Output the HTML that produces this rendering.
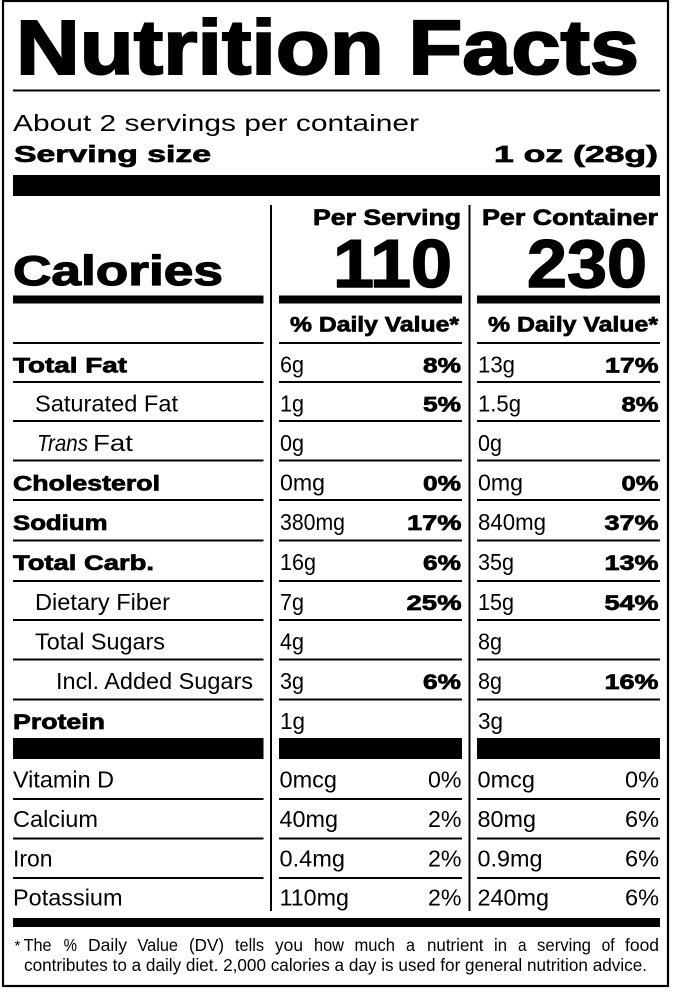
<!DOCTYPE html>
<html>
<head>
<meta charset="utf-8">
<style>
  html, body { margin: 0; padding: 0; background: #fff; }
  svg { display: block; }
  text { font-family: "Liberation Sans", Arial, sans-serif; fill: #000; }
  .b { font-weight: bold; stroke: #000; stroke-width: 0.7; }
  .r { font-weight: normal; }
  .i { font-style: italic; }
</style>
</head>
<body>
<svg width="673" height="992" viewBox="0 0 673 992" xmlns="http://www.w3.org/2000/svg">
  <rect x="0" y="0" width="673" height="992" fill="#fff"/>
  <rect x="3" y="1" width="665" height="985" fill="none" stroke="#000" stroke-width="2.2"/>

  <text x="16" y="74" font-size="77" font-weight="bold" stroke="#000" stroke-width="2" textLength="623" lengthAdjust="spacingAndGlyphs">Nutrition Facts</text>
  <rect x="13" y="89.5" width="647" height="2"/>

  <text class="r" x="13" y="131" font-size="23.5" textLength="406" lengthAdjust="spacingAndGlyphs">About 2 servings per container</text>
  <text class="b" x="14" y="162" font-size="23" textLength="197" lengthAdjust="spacingAndGlyphs">Serving size</text>
  <text class="b" x="494" y="162" font-size="23" textLength="164" lengthAdjust="spacingAndGlyphs">1 oz (28g)</text>

  <rect x="13" y="175" width="647" height="21"/>

  <rect x="270" y="205" width="2" height="706"/>
  <rect x="468.5" y="205" width="2" height="706"/>

  <text class="b" x="313" y="225" font-size="22" textLength="148" lengthAdjust="spacingAndGlyphs">Per Serving</text>
  <text class="b" x="482" y="225" font-size="22" textLength="176" lengthAdjust="spacingAndGlyphs">Per Container</text>
  <text x="333" y="287" font-size="68" font-weight="bold" stroke="#000" stroke-width="1.5" textLength="119" lengthAdjust="spacingAndGlyphs">110</text>
  <text x="527" y="287" font-size="68" font-weight="bold" stroke="#000" stroke-width="1.5" textLength="120" lengthAdjust="spacingAndGlyphs">230</text>
  <text x="13" y="285" font-size="42" font-weight="bold" stroke="#000" stroke-width="1.2" textLength="210" lengthAdjust="spacingAndGlyphs">Calories</text>

  <rect x="13" y="295.5" width="250.5" height="8"/>
  <rect x="279" y="295.5" width="183" height="8"/>
  <rect x="477" y="295.5" width="183" height="8"/>

  <text class="b" x="290" y="331.5" font-size="21.5" textLength="169" lengthAdjust="spacingAndGlyphs">% Daily Value*</text>
  <text class="b" x="488" y="331.5" font-size="21.5" textLength="170" lengthAdjust="spacingAndGlyphs">% Daily Value*</text>

  <g>
    <rect x="13" y="342" width="250.5" height="2"/><rect x="279" y="342" width="183" height="2"/><rect x="477" y="342" width="183" height="2"/>
    <rect x="13" y="381" width="250.5" height="2"/><rect x="279" y="381" width="183" height="2"/><rect x="477" y="381" width="183" height="2"/>
    <rect x="13" y="420" width="250.5" height="2"/><rect x="279" y="420" width="183" height="2"/><rect x="477" y="420" width="183" height="2"/>
    <rect x="13" y="459.5" width="250.5" height="2"/><rect x="279" y="459.5" width="183" height="2"/><rect x="477" y="459.5" width="183" height="2"/>
    <rect x="13" y="499" width="250.5" height="2"/><rect x="279" y="499" width="183" height="2"/><rect x="477" y="499" width="183" height="2"/>
    <rect x="13" y="539.5" width="250.5" height="2"/><rect x="279" y="539.5" width="183" height="2"/><rect x="477" y="539.5" width="183" height="2"/>
    <rect x="13" y="580" width="250.5" height="2"/><rect x="279" y="580" width="183" height="2"/><rect x="477" y="580" width="183" height="2"/>
    <rect x="13" y="619" width="250.5" height="2"/><rect x="279" y="619" width="183" height="2"/><rect x="477" y="619" width="183" height="2"/>
    <rect x="13" y="658.5" width="250.5" height="2"/><rect x="279" y="658.5" width="183" height="2"/><rect x="477" y="658.5" width="183" height="2"/>
    <rect x="13" y="698.5" width="250.5" height="2"/><rect x="279" y="698.5" width="183" height="2"/><rect x="477" y="698.5" width="183" height="2"/>
    <rect x="13" y="738" width="250.5" height="21"/><rect x="279" y="738" width="183" height="21"/><rect x="477" y="738" width="183" height="21"/>
    <rect x="13" y="798" width="250.5" height="2"/><rect x="279" y="798" width="183" height="2"/><rect x="477" y="798" width="183" height="2"/>
    <rect x="13" y="837.5" width="250.5" height="2"/><rect x="279" y="837.5" width="183" height="2"/><rect x="477" y="837.5" width="183" height="2"/>
    <rect x="13" y="877" width="250.5" height="2"/><rect x="279" y="877" width="183" height="2"/><rect x="477" y="877" width="183" height="2"/>
  </g>

  <text class="b" x="13" y="372.5" font-size="21" textLength="114" lengthAdjust="spacingAndGlyphs">Total Fat</text>
  <text class="r" x="35" y="411.5" font-size="23" textLength="143" lengthAdjust="spacingAndGlyphs">Saturated Fat</text>
  <text class="r i" x="37" y="451" font-size="23" textLength="51" lengthAdjust="spacingAndGlyphs">Trans</text>
  <text class="r" x="93" y="451" font-size="23" textLength="40" lengthAdjust="spacingAndGlyphs">Fat</text>
  <text class="b" x="13" y="490.5" font-size="21" textLength="147" lengthAdjust="spacingAndGlyphs">Cholesterol</text>
  <text class="b" x="13" y="530" font-size="21" textLength="94.5" lengthAdjust="spacingAndGlyphs">Sodium</text>
  <text class="b" x="13" y="570" font-size="21" textLength="141" lengthAdjust="spacingAndGlyphs">Total Carb.</text>
  <text class="r" x="35" y="610" font-size="23" textLength="135" lengthAdjust="spacingAndGlyphs">Dietary Fiber</text>
  <text class="r" x="35" y="649.5" font-size="23" textLength="130" lengthAdjust="spacingAndGlyphs">Total Sugars</text>
  <text class="r" x="56" y="689" font-size="23" textLength="197" lengthAdjust="spacingAndGlyphs">Incl. Added Sugars</text>
  <text class="b" x="13" y="729" font-size="21" textLength="92" lengthAdjust="spacingAndGlyphs">Protein</text>

  <g class="r" font-size="23">
    <text x="280" y="372.5" textLength="24" lengthAdjust="spacingAndGlyphs">6g</text>
    <text x="280" y="411.5" textLength="24" lengthAdjust="spacingAndGlyphs">1g</text>
    <text x="280" y="451" textLength="24" lengthAdjust="spacingAndGlyphs">0g</text>
    <text x="280" y="490.5" textLength="45" lengthAdjust="spacingAndGlyphs">0mg</text>
    <text x="280" y="530" textLength="65" lengthAdjust="spacingAndGlyphs">380mg</text>
    <text x="280" y="570" textLength="36" lengthAdjust="spacingAndGlyphs">16g</text>
    <text x="280" y="610" textLength="24" lengthAdjust="spacingAndGlyphs">7g</text>
    <text x="280" y="649.5" textLength="24" lengthAdjust="spacingAndGlyphs">4g</text>
    <text x="280" y="689" textLength="24" lengthAdjust="spacingAndGlyphs">3g</text>
    <text x="280" y="729" textLength="25" lengthAdjust="spacingAndGlyphs">1g</text>
  </g>
  <g class="r" font-size="23">
    <text x="478" y="372.5" textLength="37" lengthAdjust="spacingAndGlyphs">13g</text>
    <text x="478" y="411.5" textLength="43" lengthAdjust="spacingAndGlyphs">1.5g</text>
    <text x="478" y="451" textLength="24" lengthAdjust="spacingAndGlyphs">0g</text>
    <text x="478" y="490.5" textLength="45" lengthAdjust="spacingAndGlyphs">0mg</text>
    <text x="478" y="530" textLength="68" lengthAdjust="spacingAndGlyphs">840mg</text>
    <text x="478" y="570" textLength="36" lengthAdjust="spacingAndGlyphs">35g</text>
    <text x="478" y="610" textLength="36" lengthAdjust="spacingAndGlyphs">15g</text>
    <text x="478" y="649.5" textLength="24" lengthAdjust="spacingAndGlyphs">8g</text>
    <text x="478" y="689" textLength="24" lengthAdjust="spacingAndGlyphs">8g</text>
    <text x="478" y="729" textLength="25" lengthAdjust="spacingAndGlyphs">3g</text>
  </g>

  <g font-size="21">
    <text class="b" x="423" y="372.5" textLength="38" lengthAdjust="spacingAndGlyphs">8%</text>
    <text class="b" x="423" y="411.5" textLength="38" lengthAdjust="spacingAndGlyphs">5%</text>
    <text class="b" x="423" y="490.5" textLength="38" lengthAdjust="spacingAndGlyphs">0%</text>
    <text class="b" x="407" y="530" textLength="54.5" lengthAdjust="spacingAndGlyphs">17%</text>
    <text class="b" x="423" y="570" textLength="38" lengthAdjust="spacingAndGlyphs">6%</text>
    <text class="b" x="406.5" y="610" textLength="55" lengthAdjust="spacingAndGlyphs">25%</text>
    <text class="b" x="423" y="689" textLength="38" lengthAdjust="spacingAndGlyphs">6%</text>
  </g>
  <g font-size="21">
    <text class="b" x="605" y="372.5" textLength="53.5" lengthAdjust="spacingAndGlyphs">17%</text>
    <text class="b" x="621.5" y="411.5" textLength="37" lengthAdjust="spacingAndGlyphs">8%</text>
    <text class="b" x="621.5" y="490.5" textLength="37" lengthAdjust="spacingAndGlyphs">0%</text>
    <text class="b" x="604.5" y="530" textLength="54" lengthAdjust="spacingAndGlyphs">37%</text>
    <text class="b" x="604.5" y="570" textLength="54" lengthAdjust="spacingAndGlyphs">13%</text>
    <text class="b" x="604.5" y="610" textLength="54" lengthAdjust="spacingAndGlyphs">54%</text>
    <text class="b" x="604.5" y="689" textLength="54" lengthAdjust="spacingAndGlyphs">16%</text>
  </g>

  <g class="r" font-size="23">
    <text x="13" y="787.5" textLength="101" lengthAdjust="spacingAndGlyphs">Vitamin D</text>
    <text x="13" y="827" textLength="85" lengthAdjust="spacingAndGlyphs">Calcium</text>
    <text x="13" y="866.5" textLength="39.5" lengthAdjust="spacingAndGlyphs">Iron</text>
    <text x="13" y="905.5" textLength="109.5" lengthAdjust="spacingAndGlyphs">Potassium</text>

    <text x="279.5" y="787.5" textLength="57.5" lengthAdjust="spacingAndGlyphs">0mcg</text>
    <text x="279.5" y="827" textLength="58.5" lengthAdjust="spacingAndGlyphs">40mg</text>
    <text x="279.5" y="866.5" textLength="65.5" lengthAdjust="spacingAndGlyphs">0.4mg</text>
    <text x="279.5" y="905.5" textLength="69.5" lengthAdjust="spacingAndGlyphs">110mg</text>

    <text x="428" y="787.5" textLength="33.5" lengthAdjust="spacingAndGlyphs">0%</text>
    <text x="428" y="827" textLength="33.5" lengthAdjust="spacingAndGlyphs">2%</text>
    <text x="428" y="866.5" textLength="33.5" lengthAdjust="spacingAndGlyphs">2%</text>
    <text x="428" y="905.5" textLength="33.5" lengthAdjust="spacingAndGlyphs">2%</text>

    <text x="477.5" y="787.5" textLength="57.5" lengthAdjust="spacingAndGlyphs">0mcg</text>
    <text x="477.5" y="827" textLength="58.5" lengthAdjust="spacingAndGlyphs">80mg</text>
    <text x="477.5" y="866.5" textLength="65" lengthAdjust="spacingAndGlyphs">0.9mg</text>
    <text x="477.5" y="905.5" textLength="71.5" lengthAdjust="spacingAndGlyphs">240mg</text>

    <text x="625" y="787.5" textLength="34" lengthAdjust="spacingAndGlyphs">0%</text>
    <text x="625" y="827" textLength="34" lengthAdjust="spacingAndGlyphs">6%</text>
    <text x="625" y="866.5" textLength="34" lengthAdjust="spacingAndGlyphs">6%</text>
    <text x="625" y="905.5" textLength="34" lengthAdjust="spacingAndGlyphs">6%</text>
  </g>

  <rect x="13" y="918" width="647" height="9"/>

  <g class="r" font-size="17.5">
    <text x="14.5" y="950.5" font-size="15">*</text>
    <text x="23.6" y="951" textLength="28" lengthAdjust="spacingAndGlyphs">The</text>
    <text x="63.6" y="951" textLength="13.4" lengthAdjust="spacingAndGlyphs">%</text>
    <text x="88" y="951" textLength="39" lengthAdjust="spacingAndGlyphs">Daily</text>
    <text x="137.5" y="951" textLength="40.5" lengthAdjust="spacingAndGlyphs">Value</text>
    <text x="189" y="951" textLength="35" lengthAdjust="spacingAndGlyphs">(DV)</text>
    <text x="235" y="951" textLength="29" lengthAdjust="spacingAndGlyphs">tells</text>
    <text x="275" y="951" textLength="28" lengthAdjust="spacingAndGlyphs">you</text>
    <text x="314" y="951" textLength="30" lengthAdjust="spacingAndGlyphs">how</text>
    <text x="354.5" y="951" textLength="40.5" lengthAdjust="spacingAndGlyphs">much</text>
    <text x="406" y="951" textLength="9" lengthAdjust="spacingAndGlyphs">a</text>
    <text x="427" y="951" textLength="56.5" lengthAdjust="spacingAndGlyphs">nutrient</text>
    <text x="494" y="951" textLength="13" lengthAdjust="spacingAndGlyphs">in</text>
    <text x="518" y="951" textLength="8.5" lengthAdjust="spacingAndGlyphs">a</text>
    <text x="537" y="951" textLength="54" lengthAdjust="spacingAndGlyphs">serving</text>
    <text x="601.6" y="951" textLength="13" lengthAdjust="spacingAndGlyphs">of</text>
    <text x="625" y="951" textLength="34" lengthAdjust="spacingAndGlyphs">food</text>
    <text x="24" y="971" textLength="623" lengthAdjust="spacingAndGlyphs">contributes to a daily diet. 2,000 calories a day is used for general nutrition advice.</text>
  </g>
</svg>
</body>
</html>
